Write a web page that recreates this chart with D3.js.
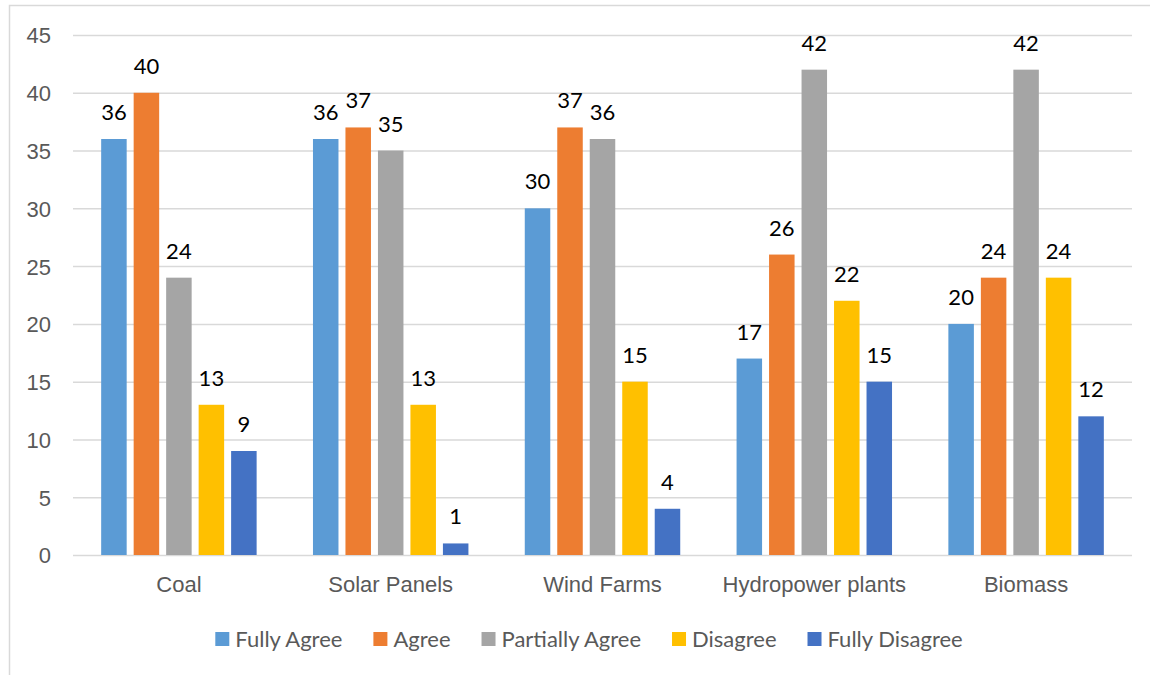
<!DOCTYPE html>
<html>
<head>
<meta charset="utf-8">
<script src="https://cdn.jsdelivr.net/npm/d3@7"></script>
<style>
  body { margin: 0; background: #fff; }
  svg { display: block; font-family: Lato, "Open Sans", sans-serif; }
</style>
</head>
<body>
<svg id="chart" width="1150" height="675"></svg>
<script>
const categories = ["Coal", "Solar Panels", "Wind Farms", "Hydropower plants", "Biomass"];
const seriesNames = ["Fully Agree", "Agree", "Partially Agree", "Disagree", "Fully Disagree"];
const seriesColors = ["#5B9BD5", "#ED7D31", "#A5A5A5", "#FFC000", "#4472C4"];

const fullyAgree = [36, 36, 30, 17, 20];
const agree = [40, 37, 37, 26, 24];
const partiallyAgree = [24, 35, 36, 42, 42];
const disagree = [13, 13, 15, 22, 24];
const fullyDisagree = [9, 1, 4, 15, 12];

const yTicks = [0, 5, 10, 15, 20, 25, 30, 35, 40, 45];

const seriesValues = [fullyAgree, agree, partiallyAgree, disagree, fullyDisagree];

const svg = d3.select("#chart");
const margin = { left: 73, right: 18, top: 35, bottom: 120 };
const width = 1150 - margin.left - margin.right;
const height = 675 - margin.top - margin.bottom;
const fontSize = "22px";

// outer frame like the Excel chart area
svg.append("rect")
    .attr("x", 9.5).attr("y", 5.5)
    .attr("width", 1160).attr("height", 700)
    .attr("fill", "none")
    .attr("stroke", "#d9d9d9")
    .attr("stroke-width", 1.5);

const g = svg.append("g").attr("transform", `translate(${margin.left},${margin.top})`);

const y = d3.scaleLinear().domain([0, 45]).range([height, 0]);

const x0 = d3.scaleBand()
    .domain(categories)
    .range([0, width])
    .paddingInner(0.266)
    .paddingOuter(0.133);

const x1 = d3.scaleBand()
    .domain(seriesNames)
    .range([0, x0.bandwidth()])
    .paddingInner(0.215);

// gridlines + y labels
const yAxis = g.append("g")
    .call(d3.axisLeft(y).tickValues(yTicks).tickSize(-width).tickPadding(22));
yAxis.select(".domain").remove();
yAxis.selectAll(".tick line").attr("stroke", "#d9d9d9").attr("stroke-width", 1.5);
yAxis.selectAll(".tick text")
    .attr("fill", "#595959")
    .style("font-size", fontSize)
    .attr("dy", "0.36em");

// x labels
const xAxis = g.append("g")
    .attr("transform", `translate(0,${height})`)
    .call(d3.axisBottom(x0).tickSize(0).tickPadding(21));
xAxis.select(".domain").remove();
xAxis.selectAll(".tick text")
    .attr("fill", "#595959")
    .style("font-size", fontSize);

// bars
const rows = categories.map((c, i) => ({
    category: c,
    values: seriesNames.map((s, j) => ({ series: s, value: seriesValues[j][i], color: seriesColors[j] }))
}));

const groups = g.selectAll(".group")
    .data(rows)
    .join("g")
    .attr("class", "group")
    .attr("transform", d => `translate(${x0(d.category)},0)`);

groups.selectAll("rect")
    .data(d => d.values)
    .join("rect")
    .attr("x", d => x1(d.series))
    .attr("y", d => y(d.value))
    .attr("width", x1.bandwidth())
    .attr("height", d => y(0) - y(d.value))
    .attr("fill", d => d.color);

groups.selectAll("text")
    .data(d => d.values)
    .join("text")
    .attr("x", d => x1(d.series) + x1.bandwidth() / 2)
    .attr("y", d => y(d.value) - 19)
    .attr("text-anchor", "middle")
    .attr("fill", "#000")
    .style("font-size", fontSize)
    .text(d => d.value);

// legend
const legend = svg.append("g").attr("transform", "translate(0,639)");
const items = legend.selectAll("g")
    .data(seriesNames)
    .join("g");
items.append("rect")
    .attr("y", -7).attr("width", 14).attr("height", 14)
    .attr("fill", (d, i) => seriesColors[i]);
items.append("text")
    .attr("x", 20)
    .attr("dy", "0.36em")
    .attr("fill", "#595959")
    .style("font-size", fontSize)
    .text(d => d);

let offsets = [];
let cursor = 0;
items.each(function () {
    offsets.push(cursor);
    const w = d3.select(this).select("text").node().getComputedTextLength();
    cursor += 20 + w + 31;
});
const total = cursor - 31;
const startX = 589 - total / 2;
items.attr("transform", (d, i) => `translate(${startX + offsets[i]},0)`);
</script>
</body>
</html>
